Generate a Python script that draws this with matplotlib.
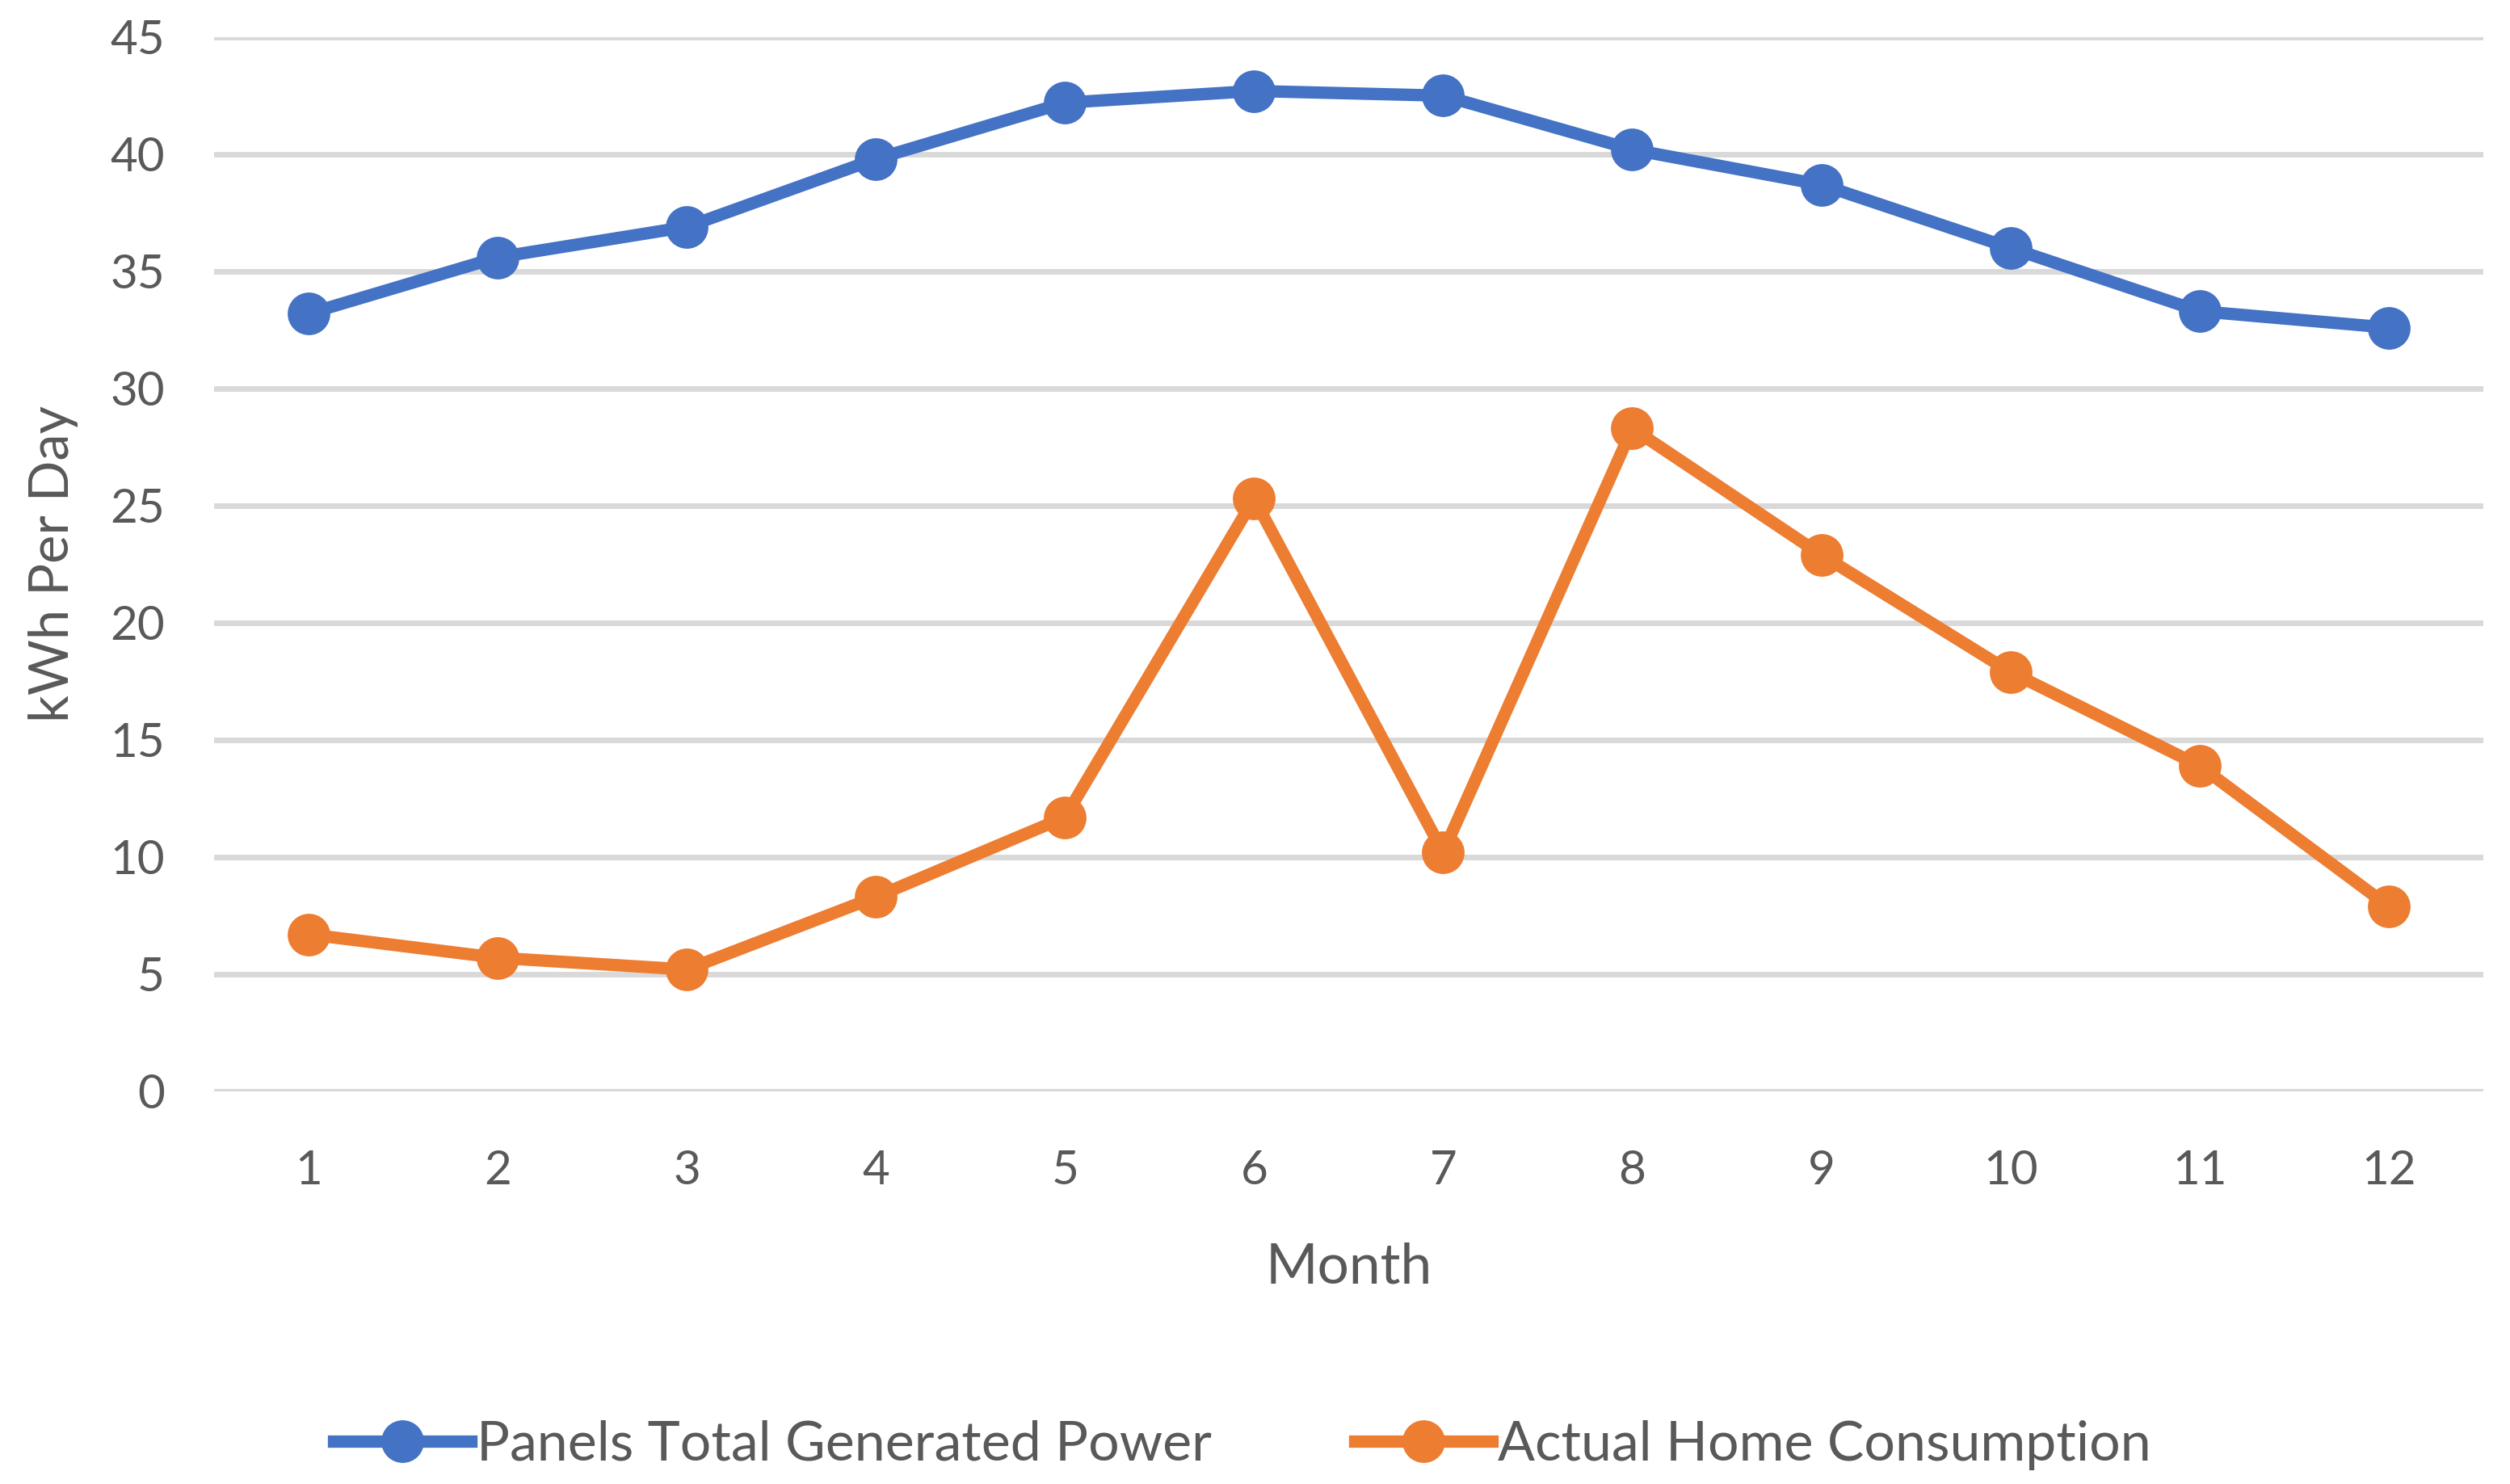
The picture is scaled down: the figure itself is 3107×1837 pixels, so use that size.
import numpy as np
import matplotlib.pyplot as plt

months = [1, 2, 3, 4, 5, 6, 7, 8, 9, 10, 11, 12]
generated = [33.2, 35.6, 36.9, 39.8, 42.2, 42.7, 42.5, 40.2, 38.7, 36.0, 33.3, 32.6]
consumption = [6.7, 5.7, 5.2, 8.3, 11.7, 25.3, 10.2, 28.3, 22.9, 17.9, 13.9, 7.9]
yticks = [0, 5, 10, 15, 20, 25, 30, 35, 40, 45]

plt.rcParams['font.family'] = ['Lato', 'DejaVu Sans']
txt_col = '#595959'

fig = plt.figure(figsize=(15.535, 9.185), dpi=200)
ax = fig.add_axes([0.0853, 0.2646, 0.904, 0.7104])

ax.plot(months, generated, color='#4472C4', lw=5.5, marker='o', ms=18,
        label='Panels Total Generated Power', zorder=3)
ax.plot(months, consumption, color='#ED7D31', lw=5.5, marker='o', ms=18,
        label='Actual Home Consumption', zorder=3)

ax.set_xlim(0.5, 12.5)
ax.set_ylim(0, 45)
ax.set_xticks(months)
ax.set_yticks(yticks)
ax.yaxis.grid(True, color='#d9d9d9', lw=2.5)
ax.set_axisbelow(True)
for s in ['top', 'right', 'left', 'bottom']:
    ax.spines[s].set_visible(False)
ax.axhline(0, color='#d9d9d9', lw=2.5, zorder=1)
ax.tick_params(axis='both', length=0, labelsize=21, labelcolor=txt_col)
ax.tick_params(axis='y', pad=22)
ax.tick_params(axis='x', pad=26)

ax.set_xlabel('Month', fontsize=25, color=txt_col, labelpad=22)
ax.set_ylabel('kWh Per Day', fontsize=24, color=txt_col, labelpad=14)

fig.legend(loc='lower center', bbox_to_anchor=(0.495, -0.024), ncol=2, frameon=False,
           fontsize=24.5, labelcolor=txt_col, handlelength=2.5, handletextpad=0.1,
           columnspacing=2.6)

fig.savefig('out.png', dpi=200)
